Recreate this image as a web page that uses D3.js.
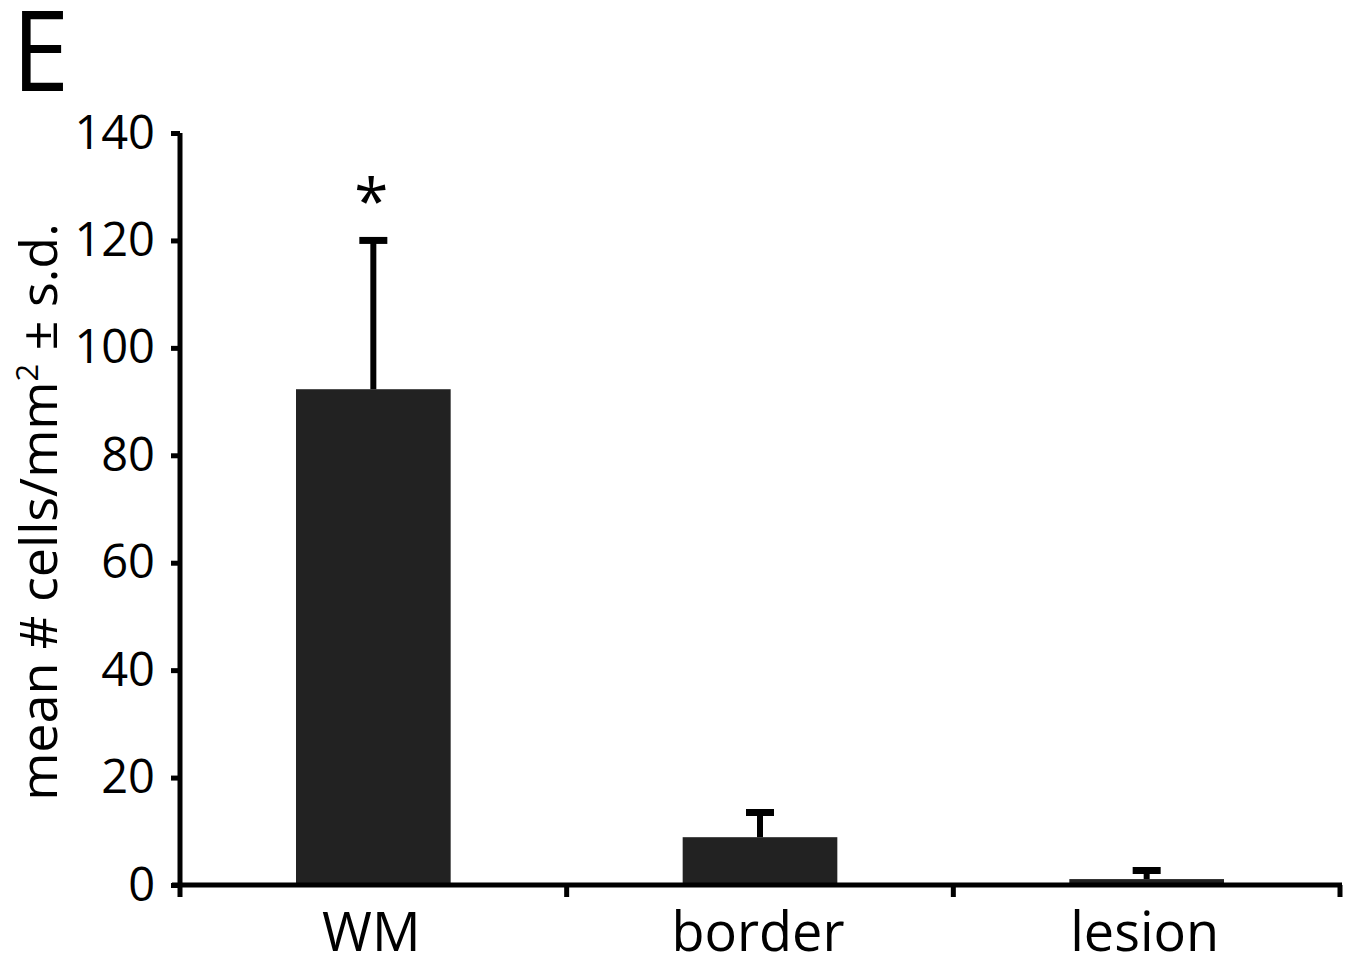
<!DOCTYPE html>
<html>
<head>
<meta charset="utf-8">
<script src="https://cdn.jsdelivr.net/npm/d3@7"></script>
<style>
  body { margin: 0; background: #fff; }
  text { font-family: "Open Sans", sans-serif; fill: #000; }
</style>
</head>
<body>
<svg width="1347" height="959"></svg>
<script>
const categories = ["WM", "border", "lesion"];
const means = [92.3, 8.9, 1.1];
const sds = [27.7, 4.6, 1.6];
const yTicks = [0, 20, 40, 60, 80, 100, 120, 140];
const significant = [true, false, false];

const svg = d3.select("svg");

const x = d3.scaleBand()
  .domain(categories)
  .range([180, 1340])
  .paddingInner(0.6)
  .paddingOuter(0.3);

const y = d3.scaleLinear()
  .domain([0, 140])
  .range([885, 133]);

// panel letter
svg.append("text")
  .attr("x", 12)
  .attr("y", 91)
  .attr("transform", "translate(12,0) scale(0.92,1) translate(-12,0)")
  .style("font-size", "112px")
  .text("E");

// bars
svg.selectAll(".bar")
  .data(categories)
  .enter()
  .append("rect")
  .attr("class", "bar")
  .attr("x", d => x(d))
  .attr("width", x.bandwidth())
  .attr("y", (d, i) => y(means[i]))
  .attr("height", (d, i) => y(0) - y(means[i]))
  .attr("fill", "#222");

// error bars (upper only)
const err = svg.append("g").attr("stroke", "#000");
categories.forEach((c, i) => {
  const cx = x(c) + x.bandwidth() / 2;
  err.append("line")
    .attr("x1", cx).attr("x2", cx)
    .attr("y1", y(means[i])).attr("y2", y(means[i] + sds[i]))
    .attr("stroke-width", 6);
  err.append("line")
    .attr("x1", cx - 14).attr("x2", cx + 14)
    .attr("y1", y(means[i] + sds[i])).attr("y2", y(means[i] + sds[i]))
    .attr("stroke-width", 7);
  if (significant[i]) {
    svg.append("text")
      .attr("x", cx - 2)
      .attr("y", y(means[i] + sds[i]) - 17)
      .attr("text-anchor", "middle")
      .style("font-size", "62px")
      .text("*");
  }
});

// y axis
const yAxis = svg.append("g")
  .attr("transform", "translate(180,0)")
  .call(d3.axisLeft(y).tickValues(yTicks).tickSize(9).tickPadding(16));
yAxis.select(".domain")
  .attr("d", `M0,${y(140)}V${y(0) + 12}`)
  .attr("stroke-width", 5);
yAxis.selectAll(".tick line").attr("stroke-width", 5);
yAxis.selectAll(".tick text")
  .style("font-size", "47px")
  .attr("font-family", null);

// x axis with ticks at band boundaries
const bounds = [x.range()[0]].concat(categories.map(c => x(c) + x.bandwidth() + x.step() * 0.3));
svg.append("line")
  .attr("x1", 172).attr("x2", d3.max(bounds) + 2)
  .attr("y1", y(0)).attr("y2", y(0))
  .attr("stroke", "#000").attr("stroke-width", 5);
svg.selectAll(".xtick")
  .data(bounds.slice(1))
  .enter()
  .append("line")
  .attr("x1", d => d).attr("x2", d => d)
  .attr("y1", y(0)).attr("y2", y(0) + 12)
  .attr("stroke", "#000").attr("stroke-width", 5);

svg.selectAll(".xlabel")
  .data(categories)
  .enter()
  .append("text")
  .attr("x", d => x(d) + x.bandwidth() / 2 - 2)
  .attr("y", 951)
  .attr("text-anchor", "middle")
  .style("font-size", "54px")
  .text(d => d);

// y axis title
const yt = svg.append("text")
  .attr("transform", "translate(57,512) rotate(-90)")
  .attr("text-anchor", "middle")
  .style("font-size", "52px");
yt.append("tspan").text("mean # cells/mm");
yt.append("tspan").attr("dy", -19).style("font-size", "31px").text("2");
yt.append("tspan").attr("dy", 19).text(" \u00b1 s.d.");
</script>
</body>
</html>
